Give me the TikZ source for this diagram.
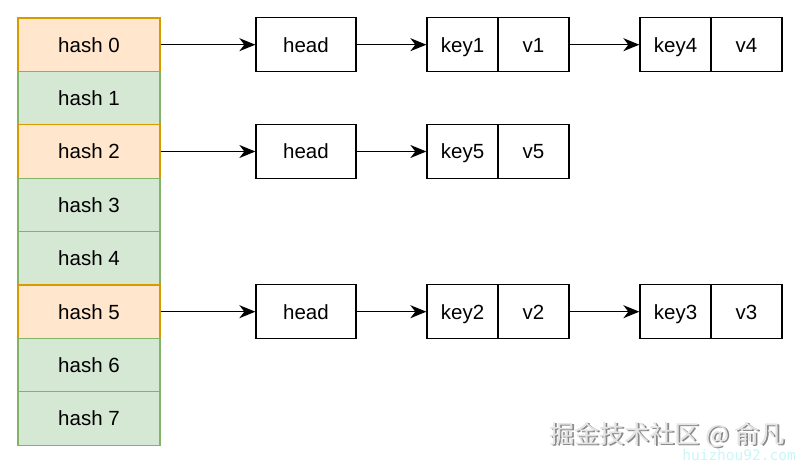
\documentclass[tikz,border=0pt]{standalone}
\usepackage{fontspec}
\setmainfont{Liberation Sans}
\newfontfamily\cjkfont{Noto Sans CJK SC}
\setmonofont{DejaVu Sans Mono}
\usetikzlibrary{arrows.meta}
\definecolor{orfill}{HTML}{FFE6CC}
\definecolor{ordraw}{HTML}{D79B00}
\definecolor{grfill}{HTML}{D5E8D4}
\definecolor{grdraw}{HTML}{82B366}
\definecolor{wmgray}{HTML}{E4E4E4}
\definecolor{wmshadow}{HTML}{8A8A8A}
\definecolor{wmcyan}{HTML}{C8F6F8}
\tikzset{
  cell/.style={rectangle, minimum width=142pt, minimum height=53.4pt, inner sep=0pt, line width=1.1pt, font=\fontsize{20.5}{24}\selectfont, text height=14.8pt, text depth=0pt},
  hot/.style={cell, fill=orfill, draw=ordraw},
  cold/.style={cell, fill=grfill, draw=grdraw},
  box/.style={rectangle, draw=black, fill=white, line width=1.3pt, minimum height=54pt, inner sep=0pt, font=\fontsize{20.5}{24}\selectfont, text height=14.8pt, text depth=0pt},
  headbox/.style={box, minimum width=100pt},
  kvbox/.style={box, minimum width=71pt},
  link/.style={-{Stealth[length=16pt,width=13pt,inset=5pt]}, line width=1.3pt, draw=black},
}
\begin{document}
\begin{tikzpicture}[x=1pt,y=-1pt]
\useasboundingbox (0,0) rectangle (800,465);
% hash column
\node[hot]  (h0) at (89,44.7)  {hash 0};
\node[cold] (h1) at (89,98.1)  {hash 1};
\node[hot]  (h2) at (89,151.5) {hash 2};
\node[cold] (h3) at (89,204.9) {hash 3};
\node[cold] (h4) at (89,258.3) {hash 4};
\node[hot]  (h5) at (89,311.7) {hash 5};
\node[cold] (h6) at (89,365.1) {hash 6};
\node[cold] (h7) at (89,418.5) {hash 7};
% row 0
\node[headbox] (hd0) at (306,44.7) {head};
\node[kvbox] (k1) at (462.5,44.7) {key1};
\node[kvbox] (v1) at (533.5,44.7) {v1};
\node[kvbox] (k4) at (675.5,44.7) {key4};
\node[kvbox] (v4) at (746.5,44.7) {v4};
% row 2
\node[headbox] (hd2) at (306,151.5) {head};
\node[kvbox] (k5) at (462.5,151.5) {key5};
\node[kvbox] (v5) at (533.5,151.5) {v5};
% row 5
\node[headbox] (hd5) at (306,311.7) {head};
\node[kvbox] (k2) at (462.5,311.7) {key2};
\node[kvbox] (v2) at (533.5,311.7) {v2};
\node[kvbox] (k3) at (675.5,311.7) {key3};
\node[kvbox] (v3) at (746.5,311.7) {v3};
% links
\draw[link] (h0.east) -- (hd0.west);
\draw[link] (hd0.east) -- (k1.west);
\draw[link] (v1.east) -- (k4.west);
\draw[link] (h2.east) -- (hd2.west);
\draw[link] (hd2.east) -- (k5.west);
\draw[link] (h5.east) -- (hd5.west);
\draw[link] (hd5.east) -- (k2.west);
\draw[link] (v2.east) -- (k3.west);
% watermark
\node[anchor=east, inner sep=0pt, text=wmshadow, font=\cjkfont\fontsize{25}{28}\selectfont] (wms) at (786.5,436.5) {掘金技术社区 @ 俞凡};
\node[anchor=east, inner sep=0pt, text=wmgray, font=\cjkfont\fontsize{25}{28}\selectfont] (wm) at (785,435) {掘金技术社区 @ 俞凡};
\node[anchor=east, inner sep=0pt, text=wmcyan, font=\ttfamily\fontsize{14.5}{16}\selectfont] (url) at (796,455) {huizhou92.com};
\end{tikzpicture}
\end{document}
